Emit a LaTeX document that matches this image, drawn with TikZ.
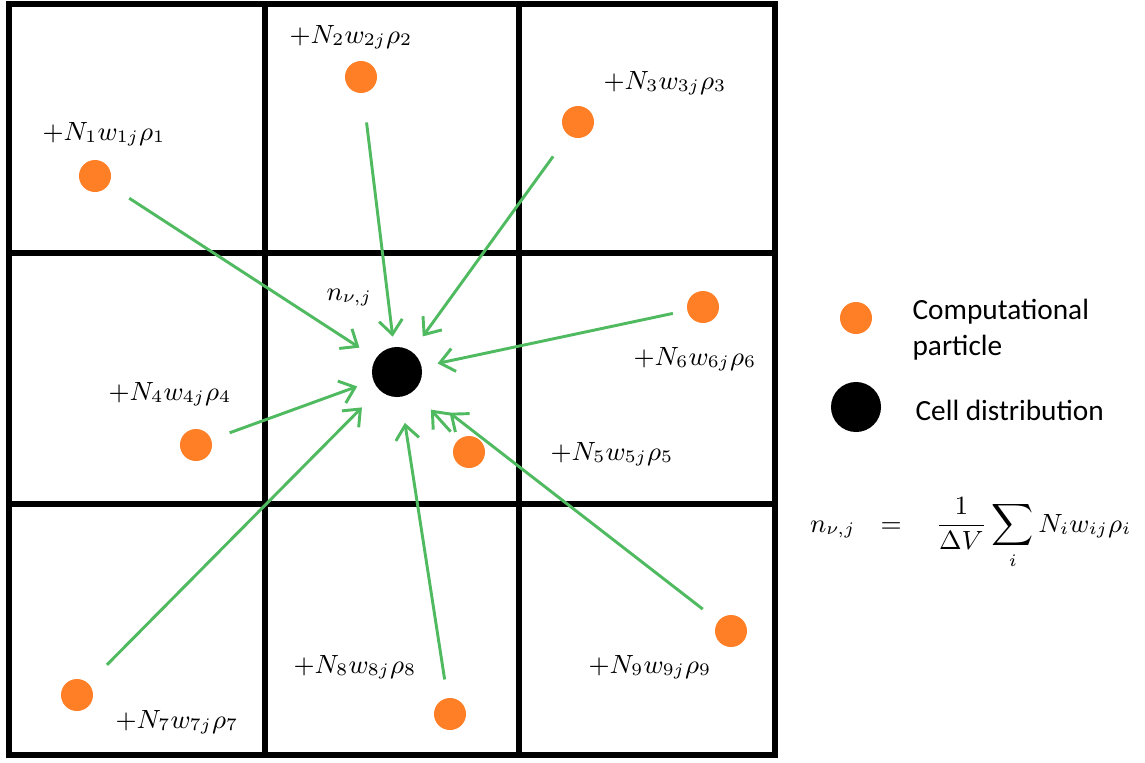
\documentclass[tikz,border=0pt]{standalone}
\usepackage{fontspec}
\setsansfont{Carlito}
\usetikzlibrary{arrows.meta}

\definecolor{partorange}{RGB}{255,127,39}
\definecolor{flowgreen}{RGB}{80,186,96}

\begin{document}
\begin{tikzpicture}[
  x=0.012cm, y=-0.012cm,
  font=\fontsize{9.2}{11}\selectfont,
  >={Straight Barb[length=1.7mm, width=2.8mm]},
  grid/.style={draw=black, line width=1.75pt},
  particle/.style={circle, fill=partorange, inner sep=0pt, minimum size=0.384cm},
  cellpt/.style={circle, fill=black, inner sep=0pt, minimum size=0.6cm},
  flow/.style={->, draw=flowgreen, line width=1pt},
  wlabel/.style={anchor=base west, inner sep=0pt},
  legend/.style={font=\normalsize\sffamily, anchor=base west, inner sep=0pt, align=left}
]
\useasboundingbox (0,0) rectangle (1145,762);

% 3x3 cells
\draw[grid] (9,4) rectangle (775,755);
\draw[grid] (265,4) -- (265,755);
\draw[grid] (519,4) -- (519,755);
\draw[grid] (9,253) -- (775,253);
\draw[grid] (9,504) -- (775,504);

% particles and cell point
\node[cellpt] (cell) at (397,372) {};
\node[particle] (p1) at (95,176) {};
\node[particle] (p2) at (361,77) {};
\node[particle] (p3) at (578,122) {};
\node[particle] (p4) at (196,445) {};
\node[particle] (p5) at (469,452) {};
\node[particle] (p6) at (703,307) {};
\node[particle] (p7) at (77,695) {};
\node[particle] (p8) at (450,714) {};
\node[particle] (p9) at (731,631) {};

% weights
\node[wlabel] (lbl1) at (42,140) {$+N_1w_{1j}\rho_1$};
\node[wlabel] (lbl2) at (289,43) {$+N_2w_{2j}\rho_2$};
\node[wlabel] (lbl3) at (603,89) {$+N_3w_{3j}\rho_3$};
\node[wlabel] (lbl4) at (108,400) {$+N_4w_{4j}\rho_4$};
\node[wlabel] (lbl5) at (550,460) {$+N_5w_{5j}\rho_5$};
\node[wlabel] (lbl6) at (633,365) {$+N_6w_{6j}\rho_6$};
\node[wlabel] (lbl7) at (115,728) {$+N_7w_{7j}\rho_7$};
\node[wlabel] (lbl8) at (293,673) {$+N_8w_{8j}\rho_8$};
\node[wlabel] (lbl9) at (588,673) {$+N_9w_{9j}\rho_9$};
\node[wlabel] (nlbl) at (326,300) {$n_{\nu,j}$};

% deposits towards the cell
\draw[flow, shorten <=2.9mm, shorten >=2.3mm] (p1) -- (cell);
\draw[flow, shorten <=3.5mm, shorten >=1.2mm] (p2) -- (cell);
\draw[flow, shorten <=3.1mm, shorten >=2.2mm] (p3) -- (cell);
\draw[flow, shorten <=2.3mm, shorten >=2.0mm] (p4) -- (cell);
\draw[flow, shorten <=1.3mm, shorten >=3.0mm] (p5) -- (cell);
\draw[flow, shorten <=1.7mm, shorten >=1.9mm] (p6) -- (cell);
\draw[flow, shorten <=3.1mm, shorten >=2.9mm] (p7) -- (cell);
\draw[flow, shorten <=2.2mm, shorten >=3.1mm] (p8) -- (cell);
\draw[flow, shorten <=2.3mm, shorten >=4.9mm] (p9) -- (cell);

% legend
\node[particle] (legpart) at (856,318) {};
\node[legend] (legparttxt) at (912,355) {Computational\\particle};
\node[cellpt] (legcell) at (856,407) {};
\node[legend] (legcelltxt) at (915,420) {Cell distribution};
\node[wlabel, anchor=base east] (formula) at (1132,532)
  {$n_{\nu,j}\hspace{6pt}=\hspace{9pt}\displaystyle\frac{1}{\Delta V}\sum_i N_i w_{ij}\rho_i$};

\end{tikzpicture}
\end{document}
